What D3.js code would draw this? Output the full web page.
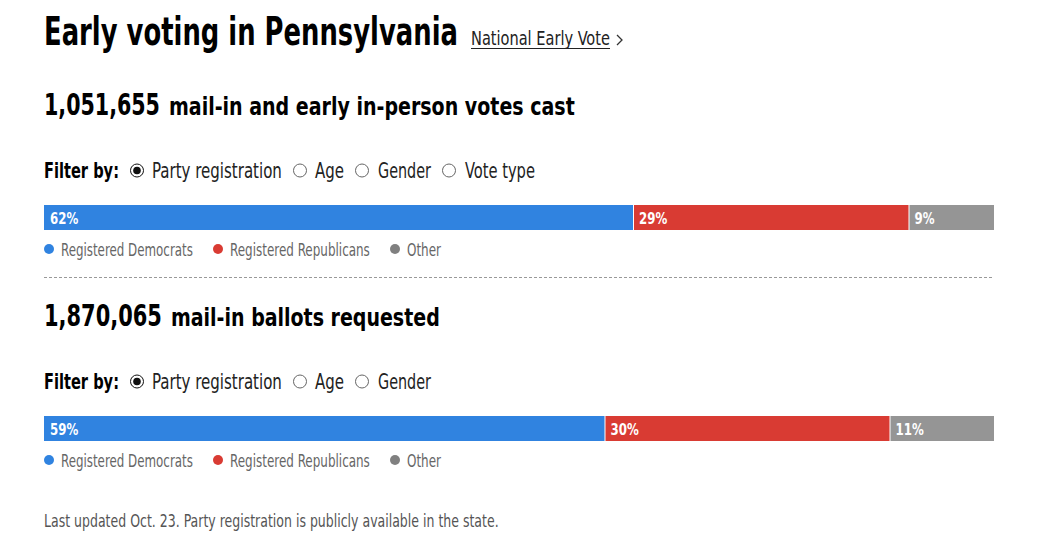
<!DOCTYPE html>
<html><head><meta charset="utf-8">
<script src="https://cdn.jsdelivr.net/npm/d3@7"></script>
<style>
html,body{margin:0;padding:0;background:#fff;}
svg text{font-family:"Liberation Sans Narrow","DejaVu Sans Condensed","Roboto",sans-serif;}
</style></head>
<body><svg id="c" width="1039" height="538"></svg>
<script>
const categories = ["Registered Democrats", "Registered Republicans", "Other"];
const castValues = [62, 29, 9];
const requestedValues = [59, 30, 11];
const castTotal = "1,051,655";
const requestedTotal = "1,870,065";
const castFilters = ["Party registration", "Age", "Gender", "Vote type"];
const requestedFilters = ["Party registration", "Age", "Gender"];
const colors = ["#3083e0", "#d93b33", "#959595"];
const legendColors = ["#3083e0", "#d93b33", "#808080"];

const svg = d3.select("#c");
const x = d3.scaleLinear().domain([0, 100]).range([44, 994]);

// place text at (px, py) and scale horizontally to target width w (or by factor sxFixed)
function fitText(parent, px, py, w, size, weight, fill, str, sxFixed) {
  const t = parent.append("text").attr("x", 0).attr("y", 0)
    .attr("font-size", size).attr("font-weight", weight).attr("fill", fill).text(str);
  const nat = t.node().getComputedTextLength();
  const sx = w ? w / nat : (sxFixed || 1);
  t.attr("transform", `translate(${px},${py}) scale(${sx},1)`);
  return t;
}

// Title
fitText(svg, 44, 45, 414, 39, 700, "#000", "Early voting in Pennsylvania");
fitText(svg, 471, 45, 139, 20, 400, "#222", "National Early Vote");
svg.append("line").attr("x1", 471).attr("x2", 610).attr("y1", 48.5).attr("y2", 48.5).attr("stroke", "#222").attr("stroke-width", 1.2);
svg.append("path").attr("d", "M617,35 L622,40 L617,45").attr("fill", "none").attr("stroke", "#333").attr("stroke-width", 1.3);

function section(top, total, totalW, rest, restX, restW, filters, values, filterPos) {
  fitText(svg, 44, top, totalW, 30, 700, "#000", total);
  fitText(svg, restX, top, restW, 25, 700, "#000", rest);
  const fy = top + 63;
  fitText(svg, 44, fy, 75, 22, 700, "#000", "Filter by:");
  filters.forEach((f, i) => {
    const p = filterPos[i];
    const cy = fy - 7.5;
    svg.append("circle").attr("cx", p.c).attr("cy", cy).attr("r", 6.5)
      .attr("fill", "#fff").attr("stroke", i === 0 ? "#111" : "#666").attr("stroke-width", 1);
    if (i === 0) svg.append("circle").attr("cx", p.c).attr("cy", cy).attr("r", 3.8).attr("fill", "#111");
    fitText(svg, p.x, fy, p.w, 22, 400, "#222", f);
  });
  const by = top + 90, bh = 25;
  let cum = 0;
  const segs = values.map((v, i) => { const s = {v, i, x0: cum, x1: cum + v}; cum += v; return s; });
  const g = svg.append("g");
  g.selectAll("rect").data(segs).join("rect")
    .attr("x", d => x(d.x0) + (d.i > 0 ? 1 : 0))
    .attr("width", d => x(d.x1) - x(d.x0) - (d.i > 0 ? 1 : 0))
    .attr("y", by).attr("height", bh).attr("fill", d => colors[d.i]);
  segs.forEach(d => {
    fitText(g, x(d.x0) + 6, by + 18.5, null, 16, 700, "#fff", d.v + "%", 0.82);
  });
  const ly = by + 44;
  const lpos = [{c: 49, x: 61, w: 132}, {c: 218, x: 230, w: 140}, {c: 395, x: 407, w: 34}];
  categories.forEach((cName, i) => {
    svg.append("circle").attr("cx", lpos[i].c).attr("cy", ly).attr("r", 5).attr("fill", legendColors[i]);
    fitText(svg, lpos[i].x, ly + 6.5, lpos[i].w, 17, 400, "#666", cName);
  });
}

const fpos = [{c: 137, x: 152, w: 130}, {c: 300, x: 315, w: 29}, {c: 362, x: 378, w: 53}, {c: 449, x: 465, w: 70}];
section(115, castTotal, 116, "mail-in and early in-person votes cast", 169, 406, castFilters, castValues, fpos);
svg.append("line").attr("x1", 44).attr("x2", 994).attr("y1", 277.5).attr("y2", 277.5)
  .attr("stroke", "#999").attr("stroke-dasharray", "3,2").attr("stroke-width", 1);
section(326, requestedTotal, 118, "mail-in ballots requested", 171, 269, requestedFilters, requestedValues, fpos);

fitText(svg, 44, 527, 455, 17, 400, "#555", "Last updated Oct. 23. Party registration is publicly available in the state.");
</script></body></html>
